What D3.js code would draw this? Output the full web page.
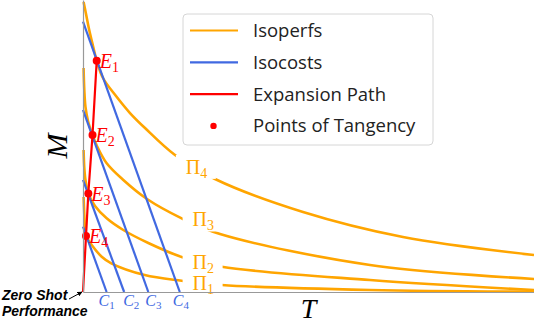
<!DOCTYPE html>
<html>
<head>
<meta charset="utf-8">
<script src="https://cdn.jsdelivr.net/npm/d3@7"></script>
<style>
body{margin:0;background:#fff;}
</style>
</head>
<body>
<div id="chart"></div>
<script>
var w=534;
var h=324;

// isoperfs, [T, M] (Pi1 lowest .. Pi4 highest)
var perf1=[[0.013,3.253],[0.029,2.637],[0.044,2.192],[0.067,1.918],[0.193,1.610],[0.415,1.209],[0.627,0.983],[1.368,0.582],[2.188,0.387],[3.075,0.240],[6.364,0.068],[10,0.010]];
var perf2=[[0.013,4.863],[0.029,4.247],[0.055,3.836],[0.118,3.373],[0.266,2.945],[0.525,2.524],[0.894,2.123],[1.448,1.678],[2.188,1.199],[3.075,0.866],[6.364,0.411],[10,0.068]];
var perf3=[[0.013,7.671],[0.029,6.918],[0.055,6.336],[0.111,5.856],[0.211,5.377],[0.310,5.000],[0.525,4.408],[0.894,3.836],[1.419,3.185],[2.188,2.524],[3.038,1.986],[6.364,0.925],[10,0.445]];
var perf4=[[0.013,9.932],[0.067,9.521],[0.133,9.007],[0.222,8.425],[0.304,7.921],[0.443,7.329],[0.732,6.712],[1.042,6.130],[1.375,5.616],[2.040,4.692],[2.927,3.870],[4.878,2.740],[7.095,1.884],[10,1.267]];
var perfs=[perf1,perf2,perf3,perf4];

// isocosts C1..C4: where each line meets the T axis and the M axis
var costT=[0.523,0.912,1.448,2.146];
var costM=[2.236,3.836,6.233,9.257];

// points of tangency E1..E4
var tanT=[0.304,0.211,0.118,0.067];
var tanM=[7.921,5.377,3.373,1.918];

var legendLabels=["Isoperfs","Isocosts","Expansion Path","Points of Tangency"];

var orange="#ffa500", blue="#4169e1", red="#ff0000";

var svg=d3.select("#chart").append("svg")
          .attr("width",w)
          .attr("height",h);

var x=d3.scaleLinear().domain([0,10]).range([83,534]);
var y=d3.scaleLinear().domain([0,10]).range([292,0]);

var line=d3.line()
           .x(function(d){return x(d[0]);})
           .y(function(d){return y(d[1]);})
           .curve(d3.curveCatmullRom.alpha(0.5));

svg.append("g").selectAll("path")
   .data(perfs)
   .enter().append("path")
   .attr("d",line)
   .attr("fill","none")
   .attr("stroke",orange)
   .attr("stroke-width",2.6);

svg.append("g").selectAll("line")
   .data(costT)
   .enter().append("line")
   .attr("x1",x(0))
   .attr("y1",function(d,i){return y(costM[i]);})
   .attr("x2",function(d){return x(d);})
   .attr("y2",y(0))
   .attr("stroke",blue)
   .attr("stroke-width",2.2);

// expansion path from the origin through the tangency points
var pathPts=[[0,0]];
for(var i=tanT.length-1;i>=0;i--) pathPts.push([tanT[i],tanM[i]]);
svg.append("path")
   .attr("d",d3.line().x(function(d){return x(d[0]);}).y(function(d){return y(d[1]);})(pathPts))
   .attr("fill","none")
   .attr("stroke",red)
   .attr("stroke-width",2.2);

svg.append("g").selectAll("circle")
   .data(tanT)
   .enter().append("circle")
   .attr("cx",function(d){return x(d);})
   .attr("cy",function(d,i){return y(tanM[i]);})
   .attr("r",4)
   .attr("fill",red);

// E labels
tanT.forEach(function(t,i){
  var tx=svg.append("text")
     .attr("x",x(t)+3)
     .attr("y",y(tanM[i])+7)
     .attr("fill",red)
     .style("font-family","Liberation Serif")
     .style("font-style","italic")
     .style("font-size","20px");
  tx.append("tspan").text("E");
  tx.append("tspan").attr("dy",4).style("font-size","14px").style("font-style","normal").text(i+1);
});

// inline Pi labels on the isoperfs
var labelT=[2.63,2.63,2.63,2.48];
var labelDy=[0,0,-7,0];
function valueAt(pts,t){
  var j=d3.bisector(function(d){return d[0];}).left(pts,t);
  var a=pts[j-1], b=pts[j];
  return a[1]+(b[1]-a[1])*(t-a[0])/(b[0]-a[0]);
}
perfs.forEach(function(pts,i){
  var cx=x(labelT[i]), cy=y(valueAt(pts,labelT[i]))+labelDy[i];
  svg.append("rect")
     .attr("x",cx-19).attr("y",cy-12)
     .attr("width",40).attr("height",24)
     .attr("fill","#fff");
  var tx=svg.append("text")
     .attr("x",cx-9)
     .attr("y",cy+7)
     .attr("fill",orange)
     .style("font-family","Liberation Serif")
     .style("font-size","20px");
  tx.append("tspan").text("\u03A0");
  tx.append("tspan").attr("dy",4).style("font-size","14px").text(i+1);
});

// axes, no ticks
svg.append("g").attr("transform","translate(0,"+y(0)+")")
   .call(d3.axisBottom(x).ticks(0).tickSizeOuter(0))
   .select(".domain").attr("stroke","#999").attr("stroke-width",1.2);
svg.append("g").attr("transform","translate("+x(0)+",0)")
   .call(d3.axisLeft(y).ticks(0).tickSizeOuter(0))
   .select(".domain").attr("stroke","#999").attr("stroke-width",1.2);

// C labels under the axis
var cShift=[-8,-1,-3,-7];
costT.forEach(function(t,i){
  var tx=svg.append("text")
     .attr("x",x(t)+cShift[i])
     .attr("y",306)
     .attr("fill",blue)
     .style("font-family","Liberation Serif")
     .style("font-style","italic")
     .style("font-size","16px");
  tx.append("tspan").text("C");
  tx.append("tspan").attr("dy",3).style("font-size","11px").style("font-style","normal").text(i+1);
});

// axis titles
svg.append("text")
   .attr("x",(x.range()[0]+x.range()[1])/2)
   .attr("y",318)
   .attr("text-anchor","middle")
   .style("font-family","Liberation Serif")
   .style("font-style","italic")
   .style("font-size","28px")
   .text("T");
svg.append("text")
   .attr("transform","translate(67,"+((y.range()[0]+y.range()[1])/2)+") rotate(-90)")
   .attr("text-anchor","middle")
   .style("font-family","Liberation Serif")
   .style("font-style","italic")
   .style("font-size","30px")
   .text("M");

// zero shot annotation
svg.append("defs").append("marker")
   .attr("id","arr").attr("viewBox","0 0 10 10")
   .attr("refX",9).attr("refY",5)
   .attr("markerWidth",5).attr("markerHeight",5)
   .attr("orient","auto")
   .append("path").attr("d","M0,0L10,5L0,10z").attr("fill","#000");
svg.append("line")
   .attr("x1",x(0)-14).attr("y1",y(0)+7)
   .attr("x2",x(0)-1).attr("y2",y(0))
   .attr("stroke","#000").attr("stroke-width",1)
   .attr("marker-end","url(#arr)");
var zs=svg.append("text")
   .style("font-family","Liberation Sans")
   .style("font-weight","bold")
   .style("font-style","italic")
   .style("font-size","14px");
zs.append("tspan").attr("x",2).attr("y",300).text("Zero Shot");
zs.append("tspan").attr("x",2).attr("y",316).text("Performance");

// legend
var lg=svg.append("g");
lg.append("rect")
  .attr("x",183).attr("y",14)
  .attr("width",250).attr("height",131)
  .attr("rx",4)
  .attr("fill","#fff").attr("fill-opacity",0.9)
  .attr("stroke","#d6d6d6");
var legendColors=[orange,blue,red,red];
legendLabels.forEach(function(lab,i){
  var ly=30.5+i*31.8;
  if(i<3){
    lg.append("line")
      .attr("x1",190).attr("x2",238)
      .attr("y1",ly).attr("y2",ly)
      .attr("stroke",legendColors[i]).attr("stroke-width",2.2);
  } else {
    lg.append("circle").attr("cx",213.5).attr("cy",ly).attr("r",3.2).attr("fill",red);
  }
  lg.append("text")
    .attr("x",253).attr("y",ly+6.5)
    .attr("fill","#222")
    .style("font-family","Open Sans")
    .style("font-size","18.5px")
    .text(lab);
});
</script>
</body>
</html>
